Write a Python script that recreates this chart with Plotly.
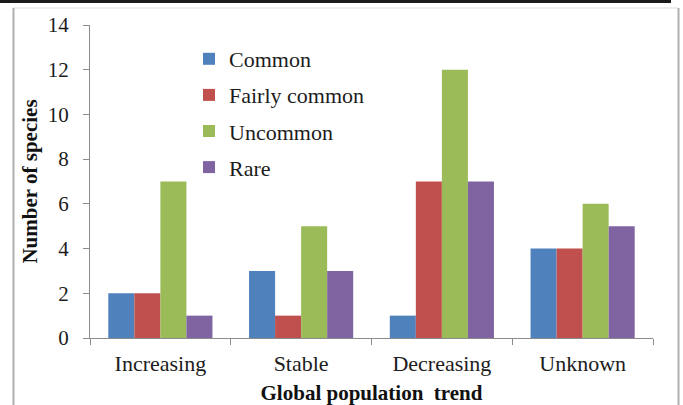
import plotly.graph_objects as go

categories = ["Increasing", "Stable", "Decreasing", "Unknown"]
series_names = ["Common", "Fairly common", "Uncommon", "Rare"]
common = [2, 3, 1, 4]
fairly_common = [2, 1, 7, 4]
uncommon = [7, 5, 12, 6]
rare = [1, 3, 7, 5]
y_ticks = [0, 2, 4, 6, 8, 10, 12, 14]

colors = ["#4F81BD", "#C0504D", "#9BBB59", "#8064A2"]
values = [common, fairly_common, uncommon, rare]

FONT = "Liberation Serif, Times New Roman, serif"
TXT = "#1c1c1c"

fig = go.Figure()
for name, vals, col in zip(series_names, values, colors):
    fig.add_trace(go.Bar(
        x=categories, y=vals, name=name, legendgroup=name,
        marker=dict(color=col, line=dict(width=0)),
    ))

W, H = 683, 405
L, R, T, B = 90, 30, 25, 67
pw, ph = W - L - R, H - T - B

def px(x):
    return (x - L) / pw

def py(y):
    return (H - B - y) / ph

fig.update_layout(
    width=W, height=H,
    margin=dict(l=L, r=R, t=T, b=B),
    paper_bgcolor="white", plot_bgcolor="white",
    barmode="group", bargap=0.26, bargroupgap=0,
    font=dict(family=FONT, size=22, color=TXT),
    showlegend=True,
    legend=dict(
        x=px(189), y=py(38), xanchor="left", yanchor="top",
        bgcolor="rgba(0,0,0,0)", font=dict(family=FONT, size=22, color=TXT),
        traceorder="grouped", tracegroupgap=4.5, itemwidth=30,
    ),
    xaxis=dict(
        automargin=False,
        showline=True, linecolor="#8c8c8c", linewidth=1,
        ticks="outside", tickson="boundaries", ticklen=6, tickcolor="#8c8c8c",
        tickfont=dict(family=FONT, size=22, color=TXT),
        ticklabelstandoff=6,
        title=dict(text="<b>Global population  trend</b>", standoff=10,
                   font=dict(family=FONT, size=21, color="#111")),
        showgrid=False,
    ),
    yaxis=dict(
        automargin=False,
        range=[0, 14], tickvals=y_ticks, showline=True, linecolor="#8c8c8c",
        linewidth=1, ticks="outside", ticklen=6, tickcolor="#8c8c8c",
        tickfont=dict(family=FONT, size=21, color=TXT),
        ticklabelstandoff=10,
        title=dict(text="<b>Number of species</b>", standoff=4,
                   font=dict(family=FONT, size=21, color="#111")),
        showgrid=False, zeroline=False,
    ),
)

# page frame: dark rule on top, light gray box around the chart
fig.add_shape(type="line", xref="paper", yref="paper",
              x0=px(0), x1=px(671), y0=py(1.5), y1=py(1.5),
              line=dict(color="#1a1a1a", width=3))
fig.add_shape(type="line", xref="paper", yref="paper",
              x0=px(13), x1=px(678), y0=py(8), y1=py(8),
              line=dict(color="#dddddd", width=1))
fig.add_shape(type="line", xref="paper", yref="paper",
              x0=px(13.5), x1=px(13.5), y0=py(8), y1=py(405),
              line=dict(color="#b0b0b0", width=2))
fig.add_shape(type="line", xref="paper", yref="paper",
              x0=px(678.5), x1=px(678.5), y0=py(8), y1=py(405),
              line=dict(color="#b0b0b0", width=2))

fig.write_html("out.html")
